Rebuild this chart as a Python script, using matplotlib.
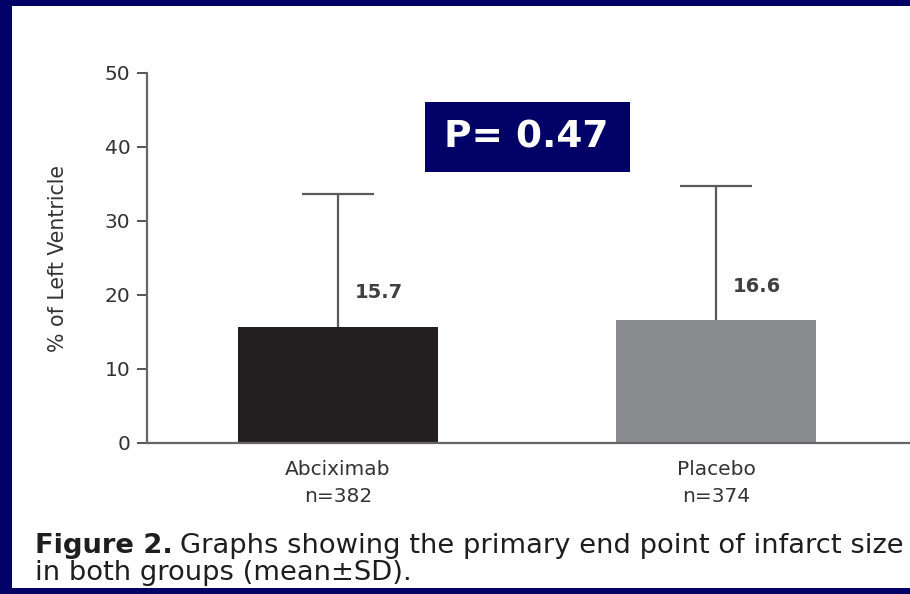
import matplotlib
matplotlib.use("Agg")
import matplotlib.pyplot as plt
from matplotlib.patches import Rectangle

categories = ["Abciximab\nn=382", "Placebo\nn=374"]
means = [15.7, 16.6]
sds = [17.9, 18.1]
value_labels = ["15.7", "16.6"]
yticks = [0, 10, 20, 30, 40, 50]
p_text = "P= 0.47"

W, H = 910, 594
NAVY = "#000066"
plt.rcParams['font.family'] = ['DejaVu Sans']
fig = plt.figure(figsize=(W / 100, H / 100), dpi=100, facecolor=NAVY)

# white panel
fig.patches.append(Rectangle((12 / W, 6 / H), 1 - 12 / W, (588 - 6) / H,
                             transform=fig.transFigure, facecolor="white",
                             edgecolor="none", zorder=-10))

ax = fig.add_axes([147 / W, (H - 443) / H, 1 - 147 / W, (443 - 73) / H])
ax.patch.set_visible(False)
x = [0, 1]
ax.bar(x, means, width=0.53, color=["#231f20", "#8a8b8e"], zorder=2)
eb = ax.errorbar(x, means, yerr=[[0, 0], sds], fmt="none", ecolor="#5a5a5a",
                 elinewidth=1.6, capsize=26, capthick=1.6, zorder=1)
# show only the upper caps
caplines = eb[1]
if len(caplines) >= 2:
    caplines[0].set_visible(False)
for xi, m, lab in zip(x, means, value_labels):
    ax.text(xi + 0.045, m + 4.6, lab, ha="left", va="center", fontsize=14,
            color="#404040", fontweight="bold")

ax.set_xlim(-0.505, 1.513)
ax.set_ylim(0, 50)
ax.set_yticks(yticks)
ax.set_xticks(x)
ax.set_xticklabels(categories, fontsize=14.5, color="#333333", linespacing=1.55)
ax.tick_params(axis="x", length=0, pad=12)
ax.tick_params(axis="y", length=7, width=1.4, color="#555555", labelsize=14.5,
               labelcolor="#333333", pad=5, direction="out")
for s in ["top", "right"]:
    ax.spines[s].set_visible(False)
for s in ["left", "bottom"]:
    ax.spines[s].set_color("#666666")
    ax.spines[s].set_linewidth(1.6)
ax.set_ylabel("% of Left Ventricle", fontsize=14.8, color="#333333", labelpad=26)

# P value box
fig.patches.append(Rectangle((425 / W, (H - 172) / H), (630 - 425) / W, (172 - 102) / H,
                             transform=fig.transFigure, facecolor=NAVY,
                             edgecolor="none", zorder=5))
fig.text(526 / W, (H - 137) / H, p_text, ha="center", va="center", color="white",
         fontsize=27, fontweight="bold", zorder=6)

# caption
cap_size = 19.7
t1 = fig.text(35 / W, (H - 553) / H, "Figure 2.", fontsize=cap_size, fontweight="bold",
              color="#1e1e1e", va="baseline", ha="left")
fig.canvas.draw()
bb = t1.get_window_extent()
fig.text((bb.x1 + 7) / W, (H - 553) / H,
         "Graphs showing the primary end point of infarct size",
         fontsize=cap_size, color="#1e1e1e", va="baseline", ha="left")
fig.text(35 / W, (H - 580) / H, "in both groups (mean\u00b1SD).", fontsize=cap_size,
         color="#1e1e1e", va="baseline", ha="left")

fig.savefig("out.png", dpi=100, facecolor=NAVY)
